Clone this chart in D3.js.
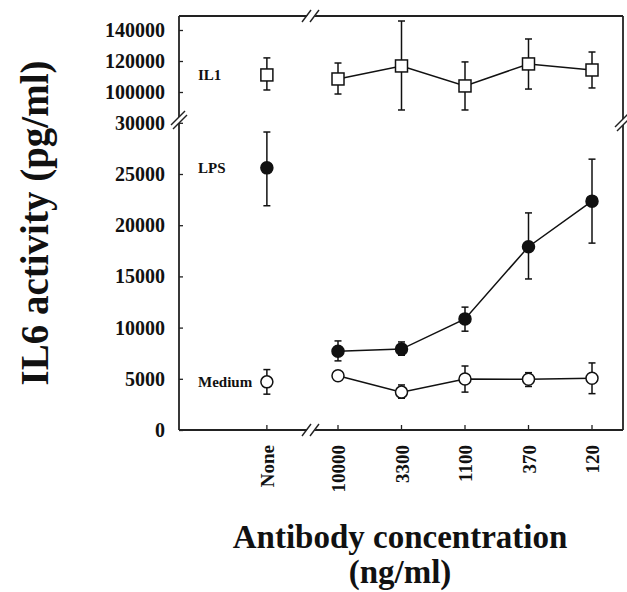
<!DOCTYPE html>
<html>
<head>
<meta charset="utf-8">
<script src="https://cdn.jsdelivr.net/npm/d3@7"></script>
<style>
  body { margin: 0; background: #fff; }
  svg text { font-family: "Liberation Serif", "Times New Roman", serif; font-weight: bold; fill: #111; }
</style>
</head>
<body>
<div id="chart"></div>
<script>
// x categories (None is drawn left of the axis break)
const categories = ["None", "10000", "3300", "1100", "370", "120"];

// IL1 (upper panel) mean, low, high
const il1 = [111000, 108400, 116800, 103900, 118100, 114200];
const il1Low = [101300, 98700, 88400, 88400, 101900, 102600];
const il1High = [122000, 118700, 145800, 119400, 134200, 125800];

// LPS
const lps = [25600, 7700, 7900, 10850, 17900, 22350];
const lpsLow = [21900, 6750, 7300, 9650, 14750, 18250];
const lpsHigh = [29100, 8700, 8600, 12000, 21200, 26450];

// Medium
const medium = [4700, 5300, 3700, 4980, 4950, 5050];
const mediumLow = [3500, 5300, 3100, 3700, 4250, 3550];
const mediumHigh = [5900, 5300, 4400, 6250, 5600, 6550];

const upperTicks = [100000, 120000, 140000];
const lowerTicks = [0, 5000, 10000, 15000, 20000, 25000, 30000];

const W = 627, H = 592;
const mLeft = 179, mRight = 623, mTop = 16, mBottom = 430;
const breakY = 119, breakX = 312;

const svg = d3.select("#chart").append("svg")
    .attr("width", W)
    .attr("height", H);

// scales
const x = d3.scaleLinear().domain([0, 4]).range([338, 592]);
const xPos = (i) => i === 0 ? x(-1.12) : x(i - 1);
const yUp = d3.scaleLinear().domain([100000, 140000]).range([92, 30]);
const yLow = d3.scaleLinear().domain([0, 25000]).range([mBottom, 174]);

// y axes (ticks inward, no domain line)
svg.append("g")
    .attr("transform", "translate(" + mLeft + ",0)")
    .call(d3.axisLeft(yUp).tickValues(upperTicks).tickSize(-4).tickPadding(14).tickFormat(d3.format("d")))
    .call(g => g.select(".domain").remove());
svg.append("g")
    .attr("transform", "translate(" + mLeft + ",0)")
    .call(d3.axisLeft(yLow).tickValues(lowerTicks).tickSize(-4).tickPadding(14).tickFormat(d3.format("d")))
    .call(g => g.select(".domain").remove());
svg.selectAll(".tick text").style("font-size", "20px");
svg.selectAll(".tick line").attr("stroke", "#222").attr("stroke-width", 1.3);

// x axis ticks
const xg = svg.append("g").attr("class", "xticks");
categories.forEach((c, i) => {
  xg.append("line")
    .attr("x1", xPos(i)).attr("x2", xPos(i))
    .attr("y1", mBottom).attr("y2", mBottom - 5)
    .attr("stroke", "#222").attr("stroke-width", 1.3);
  xg.append("text")
    .attr("transform", "translate(" + (xPos(i) + 7) + "," + (mBottom + 15) + ") rotate(-90)")
    .attr("text-anchor", "end")
    .style("font-size", "19px")
    .text(c);
});

// frame with breaks
const frame = svg.append("g").attr("stroke", "#222").attr("stroke-width", 1.8).attr("fill", "none");
frame.append("line").attr("x1", mLeft).attr("x2", mLeft).attr("y1", mTop).attr("y2", mBottom);
frame.append("line").attr("x1", mLeft).attr("x2", mRight).attr("y1", mBottom).attr("y2", mBottom);
frame.append("line").attr("x1", mLeft).attr("x2", mRight).attr("y1", mTop).attr("y2", mTop);
frame.append("line").attr("x1", mRight).attr("x2", mRight).attr("y1", mTop).attr("y2", mBottom);

function vBreak(cx, cy) {
  svg.append("polygon")
    .attr("points", [[cx - 8, cy + 6], [cx + 6, cy - 8], [cx + 8, cy - 4], [cx - 6, cy + 10]].join(" "))
    .attr("fill", "#fff");
  [[0, 0], [2, 4]].forEach(o => {
    svg.append("line")
      .attr("x1", cx - 8 + o[0]).attr("y1", cy + 6 + o[1])
      .attr("x2", cx + 6 + o[0]).attr("y2", cy - 8 + o[1])
      .attr("stroke", "#222").attr("stroke-width", 1.4);
  });
}
function hBreak(cx, cy) {
  svg.append("polygon")
    .attr("points", [[cx - 9, cy + 6], [cx - 1, cy - 6], [cx + 7, cy - 6], [cx - 1, cy + 6]].join(" "))
    .attr("fill", "#fff");
  [-5, 3].forEach(o => {
    svg.append("line")
      .attr("x1", cx + o - 5).attr("y1", cy + 6)
      .attr("x2", cx + o + 4).attr("y2", cy - 6)
      .attr("stroke", "#222").attr("stroke-width", 1.4);
  });
}
vBreak(mLeft, breakY);
vBreak(mRight, breakY + 2);
hBreak(breakX, mTop);
hBreak(breakX, mBottom);

// series drawing
function drawSeries(vals, lo, hi, y, shape) {
  const g = svg.append("g");
  const idx = d3.range(1, vals.length);
  g.append("path")
    .datum(idx)
    .attr("fill", "none")
    .attr("stroke", "#111")
    .attr("stroke-width", 1.5)
    .attr("d", d3.line().x(i => xPos(i)).y(i => y(vals[i])));
  vals.forEach((v, i) => {
    const cx = xPos(i);
    if (hi[i] !== lo[i]) {
      g.append("line").attr("x1", cx).attr("x2", cx)
        .attr("y1", y(lo[i])).attr("y2", y(hi[i]))
        .attr("stroke", "#111").attr("stroke-width", 1.5);
      [lo[i], hi[i]].forEach(e => {
        g.append("line").attr("x1", cx - 3.5).attr("x2", cx + 3.5)
          .attr("y1", y(e)).attr("y2", y(e))
          .attr("stroke", "#111").attr("stroke-width", 1.5);
      });
    }
    if (shape === "square") {
      g.append("rect").attr("x", cx - 6).attr("y", y(v) - 6)
        .attr("width", 12).attr("height", 12)
        .attr("fill", "#fff").attr("stroke", "#111").attr("stroke-width", 1.5);
    } else {
      g.append("circle").attr("cx", cx).attr("cy", y(v)).attr("r", 6)
        .attr("fill", shape === "filled" ? "#111" : "#fff")
        .attr("stroke", "#111").attr("stroke-width", 1.5);
    }
  });
}
drawSeries(il1, il1Low, il1High, yUp, "square");
drawSeries(lps, lpsLow, lpsHigh, yLow, "filled");
drawSeries(medium, mediumLow, mediumHigh, yLow, "open");

// series labels
svg.append("text").attr("x", 198).attr("y", yUp(il1[0]) + 5).style("font-size", "15px").text("IL1");
svg.append("text").attr("x", 198).attr("y", yLow(lps[0]) + 5).style("font-size", "15px").text("LPS");
svg.append("text").attr("x", 198).attr("y", yLow(medium[0]) + 5).style("font-size", "15px").text("Medium");

// axis titles
svg.append("text")
    .attr("transform", "translate(48,223) rotate(-90)")
    .attr("text-anchor", "middle")
    .style("font-size", "39px")
    .text("IL6 activity (pg/ml)");
svg.append("text")
    .attr("x", 400).attr("y", 548)
    .attr("text-anchor", "middle")
    .style("font-size", "33px")
    .text("Antibody concentration");
svg.append("text")
    .attr("x", 400).attr("y", 583)
    .attr("text-anchor", "middle")
    .style("font-size", "33px")
    .text("(ng/ml)");
</script>
</body>
</html>
